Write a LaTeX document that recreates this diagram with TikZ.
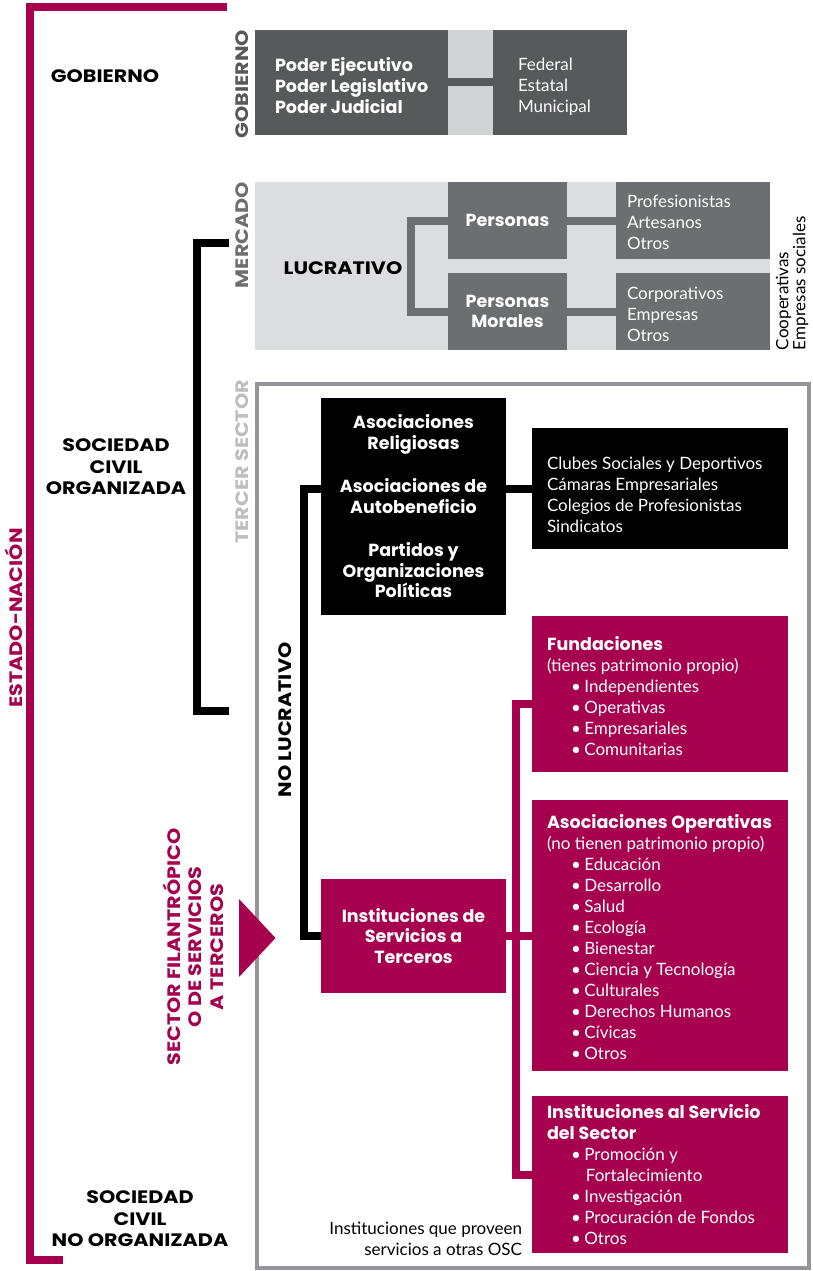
\documentclass[tikz,border=0pt]{standalone}
\usepackage{fontspec}
\setmainfont{Lato}
\newfontfamily\heavyfam{Poppins}
\newfontfamily\capsfam{Poppins}[FakeStretch=1.15]
\newcommand\heavy{\heavyfam\bfseries}
\newcommand\capsheavy{\capsfam\bfseries}
\usetikzlibrary{calc}

\definecolor{mag}{RGB}{166,0,78}
\definecolor{gobgray}{RGB}{88,89,91}
\definecolor{midgray}{RGB}{109,110,113}
\definecolor{palegray}{RGB}{220,221,222}
\definecolor{colgray}{RGB}{209,211,212}
\definecolor{framegray}{RGB}{147,149,152}
\definecolor{lightlabel}{RGB}{188,190,192}

\newcommand\blt[1]{\hspace*{24pt}\textbullet\hspace{3.5pt}#1}
\newcommand\bltcont[1]{\hspace*{24pt}\phantom{\textbullet}\hspace{5pt}#1}

\tikzset{
  blk/.style={inner sep=0pt, outer sep=0pt, anchor=north west},
  txt/.style={inner sep=0pt, outer sep=0pt, font=\fontsize{17}{21}\selectfont, align=left},
  hd/.style={inner sep=0pt, outer sep=0pt, font=\heavy\fontsize{17.5}{20.5}\selectfont, align=center},
  lab/.style={inner sep=0pt, outer sep=0pt, font=\capsheavy\fontsize{18}{21.5}\selectfont, align=center},
  vlab/.style={inner sep=0pt, outer sep=0pt, font=\capsheavy\fontsize{18}{21}\selectfont, rotate=90, anchor=base east},
  magline/.style={draw=mag, line width=8pt, line join=miter},
  blkline/.style={draw=black, line width=8pt, line join=miter},
  grayline/.style={draw=midgray, line width=8pt, line join=miter},
}

\begin{document}
\begin{tikzpicture}[x=1pt,y=-1pt]
\useasboundingbox (0,0) rectangle (813,1271);
\fill[white] (0,0) rectangle (813,1271);

% ---- Estado-Nación bracket ----
\coordinate (enTop) at (227,7);
\coordinate (enBot) at (63,1260);
\draw[magline] (enTop) -| (30,1260) -- (enBot);
\node[lab, rotate=90, text=mag] (estado) at (14,618) {ESTADO-NACIÓN};

% ---- left-hand labels ----
\node[lab] (lgob) at (105,76) {GOBIERNO};
\node[lab] (lsco) at (116,467) {SOCIEDAD\\CIVIL\\ORGANIZADA};
\node[lab] (lscn) at (140,1219) {SOCIEDAD\\CIVIL\\NO ORGANIZADA};

% ---- sociedad civil organizada bracket ----
\coordinate (bkTop) at (229,243);
\coordinate (bkBot) at (229,711);
\draw[blkline] (bkTop) -| (196.5,711) -- (bkBot);

% ---- Gobierno ----
\node[blk, fill=gobgray, minimum width=193, minimum height=105] (gobL) at (255,30) {};
\node[blk, fill=colgray, minimum width=45, minimum height=105] (gobM) at (448,30) {};
\node[blk, fill=gobgray, minimum width=134, minimum height=105] (gobR) at (493,30) {};
\draw[line width=8pt, draw=gobgray] (gobL.east) -- (gobR.west);
\node[hd, align=left, anchor=west, text=white, font=\heavy\fontsize{17.5}{21}\selectfont] (poderes) at (275,86) {Poder Ejecutivo\\Poder Legislativo\\Poder Judicial};
\node[txt, anchor=west, text=white] (niveles) at (518,86.5) {Federal\\Estatal\\Municipal};
\node[vlab, text=gobgray] (vgob) at (248,30) {GOBIERNO};

% ---- Mercado ----
\node[blk, fill=palegray, minimum width=515, minimum height=168] (merc) at (255,182) {};
\node[blk, fill=midgray, minimum width=119, minimum height=77, hd, text=white] (per) at (448,182) {Personas};
\node[blk, fill=midgray, minimum width=119, minimum height=77, hd, text=white] (mor) at (448,273) {Personas\\Morales};
\node[blk, fill=midgray, minimum width=154, minimum height=77] (perR) at (616,182) {};
\node[blk, fill=midgray, minimum width=154, minimum height=77] (morR) at (616,273) {};
\draw[grayline] (per.east) -- (perR.west);
\draw[grayline] (mor.east) -- (morR.west);
\draw[grayline] (per.west) -- ++(-37.5,0) |- (mor.west);
\node[txt, anchor=west, text=white] (perList) at (627,222) {Profesionistas\\Artesanos\\Otros};
\node[txt, anchor=west, text=white] (morList) at (627,314) {Corporativos\\Empresas\\Otros};
\node[lab] (lucr) at (343,268) {LUCRATIVO};
\node[vlab, text=midgray] (vmerc) at (248,182) {MERCADO};
\node[txt, rotate=90, anchor=north west, font=\fontsize{17}{17}\selectfont] (coop) at (776,350) {Cooperativas\\Empresas sociales};

% ---- Tercer sector ----
\node[blk, draw=framegray, line width=4.5pt, minimum width=552, minimum height=884] (ts) at (257,384) {};
\node[vlab, text=lightlabel] (vts) at (248,380) {TERCER SECTOR};

\node[blk, fill=black, minimum width=185, minimum height=217, hd, text=white] (asoc) at (321,398)
  {Asociaciones\\Religiosas\\[23pt]Asociaciones de\\Autobeneficio\\[23pt]Partidos y\\Organizaciones\\Políticas};
\node[blk, fill=black, minimum width=256, minimum height=121] (clubs) at (532,428) {};
\node[txt, anchor=west, text=white] (clubList) at (547,495) {Clubes Sociales y Deportivos\\Cámaras Empresariales\\Colegios de Profesionistas\\Sindicatos};
\draw[blkline] (asoc.east |- clubs.west) -- (clubs.west);

\node[blk, fill=mag, minimum width=185, minimum height=114, hd, text=white] (inst) at (321,879)
  {Instituciones de\\Servicios a\\Terceros};
\draw[blkline] (asoc.west |- clubs.west) -- ++(-17,0) |- (inst.west);
\node[lab, rotate=90] (nolucr) at (285,720) {NO LUCRATIVO};

% arrow into the philanthropic sector
\fill[mag] (239,899) -- (275.5,938) -- (239,977) -- cycle;
\node[lab, rotate=90, text=mag] (sfil) at (193,947) {SECTOR FILANTRÓPICO\\O DE SERVICIOS\\A TERCEROS};

% ---- philanthropic boxes ----
\node[blk, fill=mag, minimum width=256, minimum height=156] (fund) at (532,616) {};
\node[blk, fill=mag, minimum width=256, minimum height=271] (asocop) at (532,800) {};
\node[blk, fill=mag, minimum width=256, minimum height=157] (insv) at (532,1096) {};
\draw[magline] ($(fund.north west)+(0,88)$) -- ++(-16,0) |- (insv.west);
\draw[magline] (inst.east) -- (inst.east -| asocop.west);

\node[txt, anchor=west, text=white] (fundList) at (547,696.5)
  {{\heavy\fontsize{17.5}{21}\selectfont Fundaciones}\\(tienes patrimonio propio)\\\blt{Independientes}\\\blt{Operativas}\\\blt{Empresariales}\\\blt{Comunitarias}};
\node[txt, anchor=west, text=white] (asocopList) at (547,937.5)
  {{\heavy\fontsize{17.5}{21}\selectfont Asociaciones Operativas}\\(no tienen patrimonio propio)\\\blt{Educación}\\\blt{Desarrollo}\\\blt{Salud}\\\blt{Ecología}\\\blt{Bienestar}\\\blt{Ciencia y Tecnología}\\\blt{Culturales}\\\blt{Derechos Humanos}\\\blt{Cívicas}\\\blt{Otros}};
\node[txt, anchor=west, text=white] (insvList) at (547,1175)
  {{\heavy\fontsize{17.5}{21}\selectfont Instituciones al Servicio}\\{\heavy\fontsize{17.5}{21}\selectfont del Sector}\\\blt{Promoción y}\\\bltcont{Fortalecimiento}\\\blt{Investigación}\\\blt{Procuración de Fondos}\\\blt{Otros}};

\node[txt, align=right, anchor=east] (osc) at (522,1238.5) {Instituciones que proveen\\servicios a otras OSC};
\end{tikzpicture}
\end{document}
